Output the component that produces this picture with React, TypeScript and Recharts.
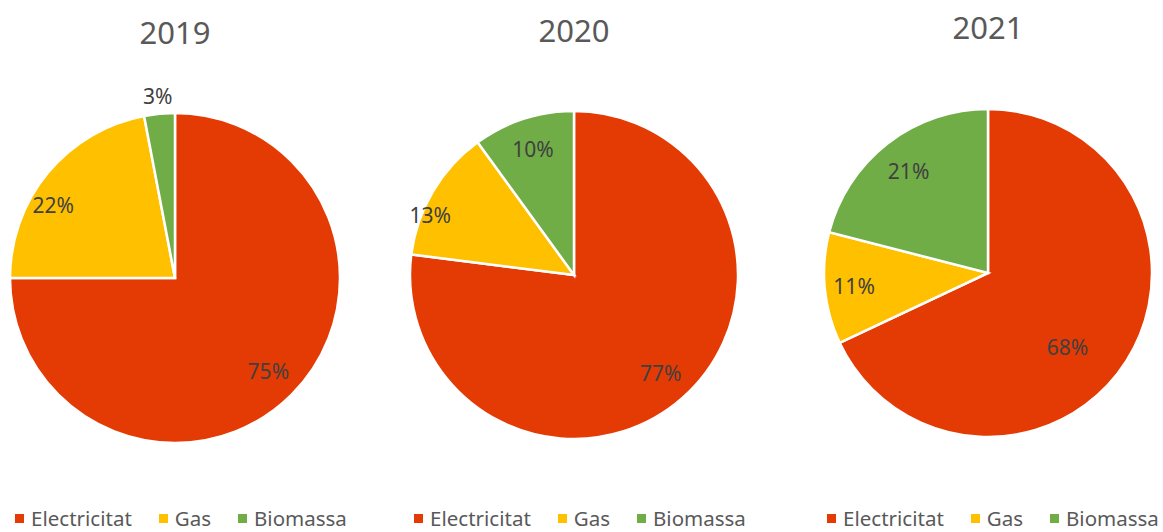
import { PieChart, Pie, Cell, Legend } from 'recharts';

const categories = ['Electricitat', 'Gas', 'Biomassa'];
const years = ['2019', '2020', '2021'];
const values2019 = [75, 22, 3];
const values2020 = [77, 13, 10];
const values2021 = [68, 11, 21];

const COLORS = ['#E43A04', '#FFC000', '#70AD47'];
const FONT = '"Noto Sans", "Open Sans", sans-serif';

// where each chart sits on the page; label radius (fraction of r) and angle nudge (deg) per slice
const layouts = [
  { left: 0, width: 362, cx: 175, cy: 278, r: 165, titleY: 32, labelR: [0.8, 0.86, 1.11], labelShift: [0, 8.7, 0] },
  { left: 400, width: 360, cx: 174, cy: 275, r: 164, titleY: 30, labelR: [0.8, 0.95, 0.81], labelShift: [0, 8, 0] },
  { left: 813, width: 360, cx: 175, cy: 273, r: 164, titleY: 27, labelR: [0.66, 0.82, 0.79], labelShift: [-10.4, 0, 0] },
];

const RAD = Math.PI / 180;

const LegendContent = () => (
  <div style={{ display: 'flex', justifyContent: 'center', alignItems: 'center', fontFamily: FONT, fontSize: 20.5, color: '#595959' }}>
    {categories.map((c, i) => (
      <div key={c} style={{ display: 'flex', alignItems: 'center', marginRight: i < 2 ? 27 : 0 }}>
        <span style={{ width: 9, height: 9, background: COLORS[i], display: 'inline-block', marginRight: 7 }} />
        <span>{c}</span>
      </div>
    ))}
  </div>
);

const YearPie = ({ idx, values }: { idx: number; values: number[] }) => {
  const l = layouts[idx];
  const data = categories.map((name, i) => ({ name, value: values[i] }));

  const renderLabel = (props: any) => {
    const { cx, cy, midAngle, outerRadius, index, value } = props;
    const rr = outerRadius * l.labelR[index];
    const a = midAngle + l.labelShift[index];
    const x = cx + rr * Math.cos(-a * RAD);
    const y = cy + rr * Math.sin(-a * RAD);
    return (
      <text x={x} y={y} fill="#404040" fontSize={21} fontFamily={FONT} textAnchor="middle" dominantBaseline="central">
        {value}%
      </text>
    );
  };

  return (
    <div style={{ position: 'absolute', left: l.left, top: 0, width: l.width, height: 532 }}>
      <div
        style={{
          position: 'absolute',
          left: l.cx - 100,
          width: 200,
          top: l.titleY - 22,
          textAlign: 'center',
          fontFamily: FONT,
          fontSize: 31,
          color: '#595959',
          lineHeight: '44px',
        }}
      >
        {years[idx]}
      </div>
      <PieChart width={l.width} height={532} margin={{ top: 0, right: 0, bottom: 0, left: 0 }}>
        <Pie
          data={data}
          dataKey="value"
          nameKey="name"
          cx={l.cx}
          cy={l.cy}
          outerRadius={l.r}
          startAngle={90}
          endAngle={-270}
          stroke="#ffffff"
          strokeWidth={2.5}
          label={renderLabel}
          labelLine={false}
          isAnimationActive={false}
        >
          {data.map((d, i) => (
            <Cell key={d.name} fill={COLORS[i]} />
          ))}
        </Pie>
        <Legend verticalAlign="bottom" content={<LegendContent />} wrapperStyle={{ bottom: 0 }} />
      </PieChart>
    </div>
  );
};

export default function App() {
  return (
    <div style={{ position: 'absolute', left: 0, top: 0, width: 1163, height: 532, background: '#fff' }}>
      <YearPie idx={0} values={values2019} />
      <YearPie idx={1} values={values2020} />
      <YearPie idx={2} values={values2021} />
    </div>
  );
}
